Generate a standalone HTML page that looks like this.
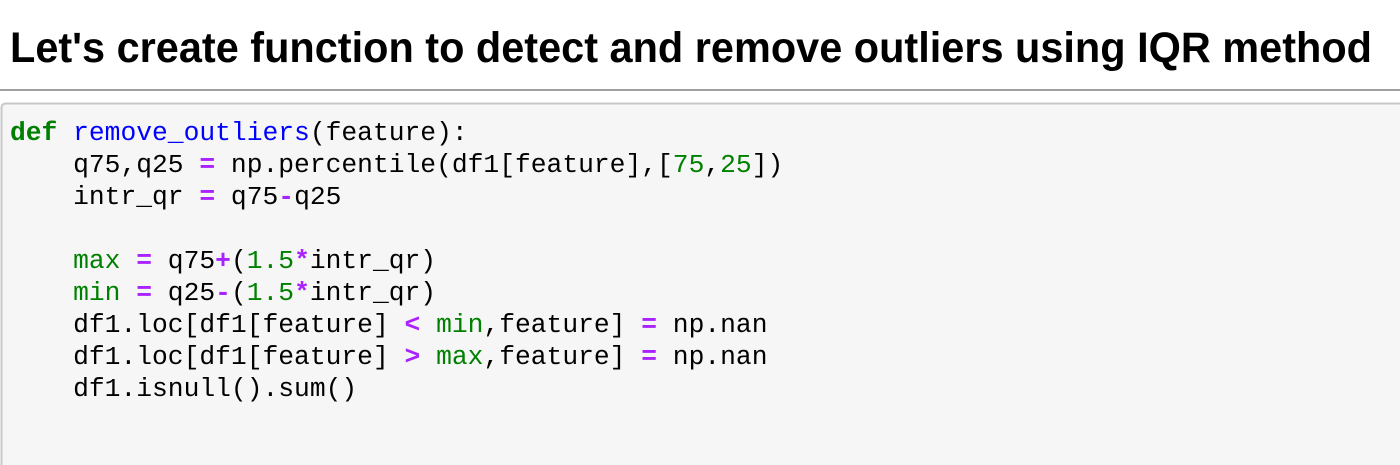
<!DOCTYPE html>
<html><head><meta charset="utf-8"><style>
html,body{margin:0;padding:0;width:1400px;height:465px;overflow:hidden;background:#fff}
svg{display:block}
.c{font-family:"Liberation Mono","DejaVu Sans Mono",monospace;font-size:26.3px;fill:#000;white-space:pre}
.k{fill:#008000;font-weight:bold}
.f{fill:#0000ff}
.o{fill:#aa22ff;font-weight:bold}
.n{fill:#008000}
</style></head><body>
<svg width="1400" height="465" xmlns="http://www.w3.org/2000/svg">
<text x="10" y="62" font-family="Liberation Sans, Arial, sans-serif" font-weight="bold" font-size="43" textLength="1362" lengthAdjust="spacingAndGlyphs">Let's create function to detect and remove outliers using IQR method</text>
<rect x="0" y="89" width="1400" height="2" fill="#a0a0a0"/>
<rect x="1.5" y="103.5" width="1410" height="380" rx="4" fill="#f6f6f6" stroke="#c8c8c8" stroke-width="2"/>
<text class="c" xml:space="preserve" x="10" y="140"><tspan class="k">def</tspan> <tspan class="f">remove_outliers</tspan>(feature):</text>
<text class="c" xml:space="preserve" x="10" y="172">    q75,q25 <tspan class="o">=</tspan> np.percentile(df1[feature],[<tspan class="n">75</tspan>,<tspan class="n">25</tspan>])</text>
<text class="c" xml:space="preserve" x="10" y="204">    intr_qr <tspan class="o">=</tspan> q75<tspan class="o">-</tspan>q25</text>
<text class="c" xml:space="preserve" x="10" y="268">    <tspan class="n">max</tspan> <tspan class="o">=</tspan> q75<tspan class="o">+</tspan>(<tspan class="n">1.5</tspan><tspan class="o">*</tspan>intr_qr)</text>
<text class="c" xml:space="preserve" x="10" y="300">    <tspan class="n">min</tspan> <tspan class="o">=</tspan> q25<tspan class="o">-</tspan>(<tspan class="n">1.5</tspan><tspan class="o">*</tspan>intr_qr)</text>
<text class="c" xml:space="preserve" x="10" y="332">    df1.loc[df1[feature] <tspan class="o">&lt;</tspan> <tspan class="n">min</tspan>,feature] <tspan class="o">=</tspan> np.nan</text>
<text class="c" xml:space="preserve" x="10" y="364">    df1.loc[df1[feature] <tspan class="o">&gt;</tspan> <tspan class="n">max</tspan>,feature] <tspan class="o">=</tspan> np.nan</text>
<text class="c" xml:space="preserve" x="10" y="396">    df1.isnull().sum()</text>
</svg>
</body></html>
